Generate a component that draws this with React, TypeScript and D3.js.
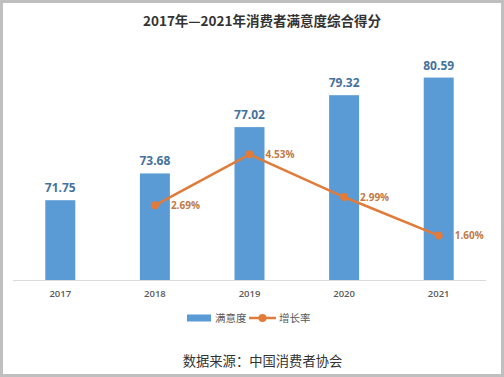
import React from "react";
import * as d3 from "d3";

const years = ["2017", "2018", "2019", "2020", "2021"];
const satisfaction = [71.75, 73.68, 77.02, 79.32, 80.59];
const growthYears = ["2018", "2019", "2020", "2021"];
const growth = [2.69, 4.53, 2.99, 1.6];
const title = "2017年—2021年消费者满意度综合得分";
const source = "数据来源：中国消费者协会";
const legendLabels = ["满意度", "增长率"];

const W = 504;
const H = 377;
const FONT = "'Open Sans', 'Noto Sans CJK SC', sans-serif";
const CJK = "'Noto Sans CJK SC', sans-serif";

export default function App() {
  const x = d3
    .scaleBand<string>()
    .domain(years)
    .range([13, 486])
    .paddingInner(0.683)
    .paddingOuter(0.3415);
  const y = d3.scaleLinear().domain([66, 82]).range([280, 58]);
  const y2 = d3.scaleLinear().domain([0, 8]).range([280, 58]);
  const cx = (d: string) => (x(d) as number) + x.bandwidth() / 2;
  const line = d3
    .line<number>()
    .x((_, i) => cx(growthYears[i]))
    .y((d) => y2(d));

  return (
    <div style={{ position: "fixed", left: 0, top: 0 }}>
      <svg width={W} height={H} style={{ display: "block" }}>
        <rect x={0} y={0} width={W} height={H} fill="#bfbfbf" />
        <rect x={3} y={3} width={498} height={371} fill="#ffffff" />
        <text
          x={262}
          y={26}
          textAnchor="middle"
          fontFamily={CJK}
          fontWeight="bold"
          fontSize={13.5}
          fill="#333333"
        >
          {title}
        </text>
        <line x1={13} x2={486} y1={280.5} y2={280.5} stroke="#d9d9d9" strokeWidth={1} />
        {years.map((yr, i) => (
          <g key={yr}>
            <rect
              x={x(yr)}
              y={y(satisfaction[i])}
              width={x.bandwidth()}
              height={280 - y(satisfaction[i])}
              fill="#5b9bd5"
            />
            <text
              x={cx(yr)}
              y={y(satisfaction[i]) - 8}
              textAnchor="middle"
              fontFamily={FONT}
              fontWeight="bold"
              fontSize={12}
              fill="#44729e"
            >
              {satisfaction[i].toFixed(2)}
            </text>
            <text
              x={cx(yr)}
              y={297}
              textAnchor="middle"
              fontFamily={FONT}
              fontWeight={600}
              fontSize={9.5}
              fill="#595959"
            >
              {yr}
            </text>
          </g>
        ))}
        <path d={line(growth) || ""} fill="none" stroke="#e07b39" strokeWidth={2.5} />
        {growth.map((g, i) => (
          <g key={growthYears[i]}>
            <circle cx={cx(growthYears[i])} cy={y2(g)} r={4} fill="#e07b39" />
            <text
              x={cx(growthYears[i]) + 16}
              y={y2(g) + 3.7}
              fontFamily={FONT}
              fontWeight="bold"
              fontSize={10}
              fill="#c07a45"
            >
              {g.toFixed(2) + "%"}
            </text>
          </g>
        ))}
        <g>
          <rect x={187} y={314.5} width={24} height={7} fill="#5b9bd5" />
          <text x={215} y={322} fontFamily={CJK} fontSize={10.5} fill="#595959">
            {legendLabels[0]}
          </text>
          <line x1={249} x2={276} y1={318} y2={318} stroke="#e07b39" strokeWidth={2.5} />
          <circle cx={262.5} cy={318} r={4} fill="#e07b39" />
          <text x={279} y={322} fontFamily={CJK} fontSize={10.5} fill="#595959">
            {legendLabels[1]}
          </text>
        </g>
        <text
          x={262.5}
          y={365.5}
          textAnchor="middle"
          fontFamily={CJK}
          fontSize={13.3}
          fill="#333333"
        >
          {source}
        </text>
      </svg>
    </div>
  );
}
